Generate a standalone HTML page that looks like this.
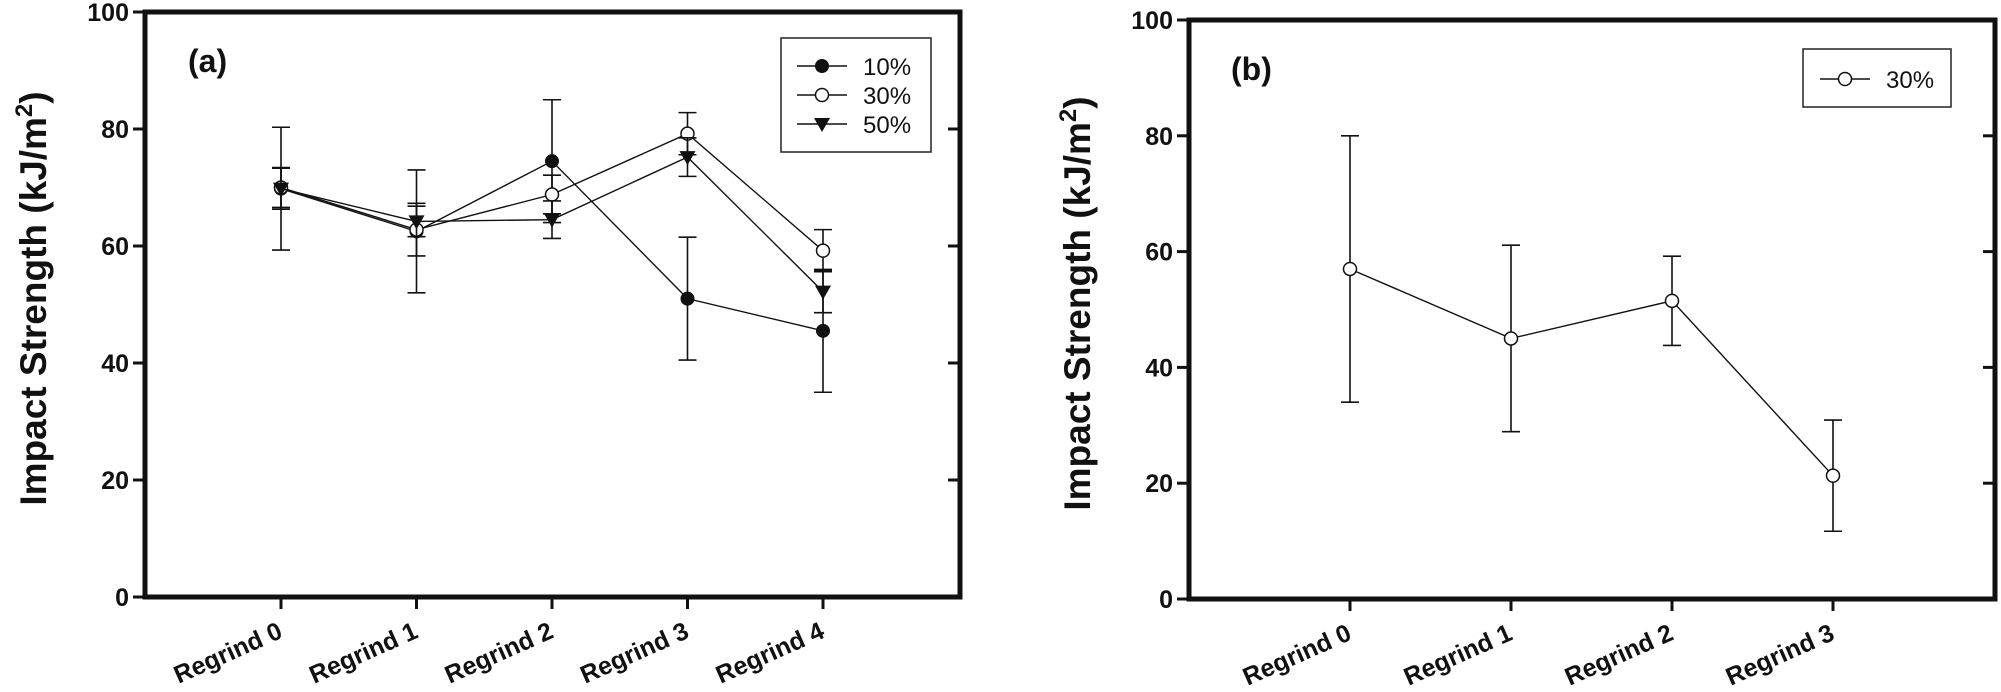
<!DOCTYPE html>
<html><head><meta charset="utf-8">
<style>
html,body{margin:0;padding:0;background:#fff;}
svg{display:block;}
.tick{font-family:"Liberation Sans Narrow","Liberation Sans",sans-serif;font-weight:bold;font-size:25px;fill:#111;}
.xl{font-family:"Liberation Sans",sans-serif;font-weight:bold;font-size:25px;fill:#111;}
.yt{font-family:"Liberation Sans",sans-serif;font-weight:bold;font-size:37px;fill:#111;}
.pl{font-family:"Liberation Sans Narrow","Liberation Sans",sans-serif;font-weight:bold;font-size:32px;fill:#111;}
.lg{font-family:"Liberation Sans Narrow","Liberation Sans",sans-serif;font-size:24px;fill:#111;}
</style></head>
<body>
<svg id="chart" width="2001" height="692" viewBox="0 0 2001 692" xmlns="http://www.w3.org/2000/svg"></svg>
<script>
const catsA = ["Regrind 0","Regrind 1","Regrind 2","Regrind 3","Regrind 4"];
const catsB = ["Regrind 0","Regrind 1","Regrind 2","Regrind 3"];
const yTicks = [0,20,40,60,80,100];
const a10 = [69.8,62.5,74.5,51.0,45.5];
const a10err = [10.5,10.5,10.5,10.5,10.5];
const a30 = [70.0,62.8,68.8,79.2,59.2];
const a30err = [3.4,4.5,3.3,3.6,3.6];
const a50 = [69.8,64.2,64.5,75.2,52.2];
const a50err = [3.5,2.6,3.2,3.3,3.6];
const b30 = [57.0,45.0,51.5,21.3];
const b30err = [23.0,16.1,7.7,9.6];

const NS="http://www.w3.org/2000/svg";
const svg=document.getElementById('chart');
function el(tag,attrs,parent){const e=document.createElementNS(NS,tag);for(const k in attrs)e.setAttribute(k,attrs[k]);(parent||svg).appendChild(e);return e;}

function panel(cfg){
  const g=el('g',{});
  
  
  const {x0,x1,yTop,yBot,cats,first,step}=cfg;
  const ys=v=>yBot-(v/100)*(yBot-yTop);
  const xs=i=>first+i*step;
  const frame=el('rect',{x:x0,y:yTop,width:x1-x0,height:yBot-yTop,fill:'none',stroke:'#111','stroke-width':5},g);
  
  
  yTicks.forEach(t=>{
    const y=ys(t);
    const tk=el('line',{x1:x0-12,y1:y,x2:x0,y2:y,stroke:'#111','stroke-width':3},g);
    
    
    if(t>0&&t<100){const tr=el('line',{x1:x1-12,y1:y,x2:x1,y2:y,stroke:'#111','stroke-width':3},g);
      
      }
    const tx=el('text',{x:x0-16,y:y+9,'text-anchor':'end',class:'tick'},g);
    tx.textContent=t;
    
    
  });
  cats.forEach((c,i)=>{
    const x=xs(i);
    const tk=el('line',{x1:x,y1:yBot,x2:x,y2:yBot+12,stroke:'#111','stroke-width':3},g);
    
    
    const tx=el('text',{x:0,y:0,'text-anchor':'end',class:'xl',transform:`translate(${x+3},${yBot+40}) rotate(-24)`},g);
    tx.textContent=c;
    
    
  });
  const yt=el('text',{x:0,y:0,'text-anchor':'middle',class:'yt',transform:`translate(${cfg.titleX},${(yTop+yBot)/2-6}) rotate(-90)`},g);
  yt.innerHTML='Impact Strength (kJ/m<tspan dy="-14" font-size="24">2</tspan><tspan dy="14">)</tspan>';
  
  
  const pl=el('text',{x:cfg.plX,y:cfg.plY,class:'pl'},g);
  pl.textContent=cfg.label;
  
  
  cfg.series.forEach(s=>{
    const sg=el('g',{},g);
    
    
    s.vals.forEach((v,i)=>{
      const x=xs(i),hi=ys(v+s.err[i]),lo=ys(v-s.err[i]);
      const eb=el('path',{d:`M${x},${hi}V${lo}M${x-9},${hi}H${x+9}M${x-9},${lo}H${x+9}`,stroke:'#111','stroke-width':1.6,fill:'none'},sg);
      
      
    });
    const pts=s.vals.map((v,i)=>xs(i)+','+ys(v)).join(' ');
    const ln=el('polyline',{points:pts,fill:'none',stroke:'#111','stroke-width':1.4},sg);
    
    
    s.vals.forEach((v,i)=>{
      const m=marker(sg,s.type,xs(i),ys(v));
      
      
    });
  });
  const L=cfg.legend;
  const lg=el('g',{},g);
  
  
  const lb=el('rect',{x:L.x,y:L.y,width:L.w,height:L.h,fill:'#fff',stroke:'#222','stroke-width':1.5},lg);
  
  
  cfg.series.forEach((s,k)=>{
    const y=L.ey+k*29;
    const eg=el('g',{},lg);
    
    
    el('line',{x1:L.lx,y1:y,x2:L.lx+50,y2:y,stroke:'#111','stroke-width':1.6},eg);
    marker(eg,s.type,L.lx+25,y);
    const t=el('text',{x:L.lx+66,y:y+9,class:'lg'},eg);
    t.textContent=s.key;
  });
}
function marker(p,type,x,y){
  if(type==='filled') return el('circle',{cx:x,cy:y,r:6.5,fill:'#111',stroke:'#111','stroke-width':1},p);
  if(type==='open') return el('circle',{cx:x,cy:y,r:6.5,fill:'#fff',stroke:'#111','stroke-width':1.5},p);
  return el('path',{d:`M${x-8},${y-6}H${x+8}L${x},${y+8}Z`,fill:'#111'},p);
}

panel({name:'panel-a',x0:145,x1:960,yTop:12,yBot:597,cats:catsA,first:281,step:135.5,
  titleX:46,plX:188,plY:72,label:'(a)',
  series:[{key:'10%',type:'filled',vals:a10,err:a10err},{key:'30%',type:'open',vals:a30,err:a30err},{key:'50%',type:'tri',vals:a50,err:a50err}],
  legend:{x:781,y:38,w:150,h:114,ey:66,lx:797}});
panel({name:'panel-b',x0:1189,x1:1995,yTop:20,yBot:599,cats:catsB,first:1350,step:161,
  titleX:1090,plX:1231,plY:80,label:'(b)',
  series:[{key:'30%',type:'open',vals:b30,err:b30err}],
  legend:{x:1803,y:49,w:148,h:58,ey:79,lx:1820}});
</script>
</body></html>
